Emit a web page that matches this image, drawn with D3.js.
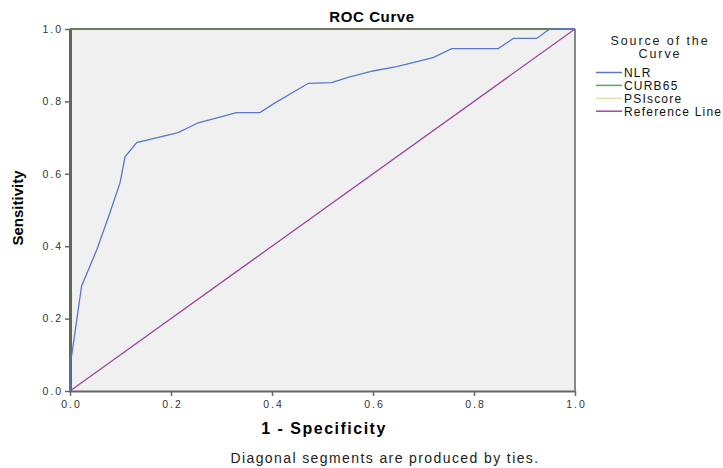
<!DOCTYPE html>
<html>
<head>
<meta charset="utf-8">
<script src="https://cdn.jsdelivr.net/npm/d3@7"></script>
<style>
body { margin: 0; background: #fff; }
text { font-family: "Liberation Sans", Arial, sans-serif; }
</style>
</head>
<body>
<div id="roc_div"></div>
<script>
// NLR curve (1 - specificity, sensitivity)
var nlrX = [0, 0, 0.003, 0.023, 0.053, 0.076, 0.099, 0.109, 0.132, 0.214, 0.254, 0.330, 0.376, 0.406, 0.472, 0.518, 0.554, 0.600, 0.647, 0.719, 0.756, 0.848, 0.878, 0.924, 0.950, 1];
var nlrY = [0, 0.09, 0.095, 0.290, 0.390, 0.480, 0.575, 0.647, 0.686, 0.714, 0.741, 0.769, 0.769, 0.796, 0.850, 0.852, 0.868, 0.884, 0.896, 0.921, 0.946, 0.946, 0.974, 0.974, 1.0, 1.0];
var refX = [0, 1];
var refY = [0, 1];

var ticks = [0, 0.2, 0.4, 0.6, 0.8, 1.0];
var legendTitle = ['Source of the', 'Curve'];
var legendNames = ['NLR', 'CURB65', 'PSIscore', 'Reference Line'];
var legendColors = ['#5b77c9', '#3fb55c', '#e4e1a8', '#9c4a9c'];

var w = 723, h = 468;
var margin = {top: 29, right: 148, bottom: 77, left: 70};

var svg = d3.select('#roc_div')
    .append('svg')
    .attr('width', w)
    .attr('height', h);

var x = d3.scaleLinear().domain([0, 1]).range([margin.left, w - margin.right]);
var y = d3.scaleLinear().domain([0, 1]).range([h - margin.bottom, margin.top]);

// plot background
svg.append('rect')
    .attr('x', x(0)).attr('y', y(1))
    .attr('width', x(1) - x(0)).attr('height', y(0) - y(1))
    .attr('fill', '#f0f0f0');

// axes
var xAxis = svg.append('g')
    .attr('transform', 'translate(0,' + y(0) + ')')
    .call(d3.axisBottom(x).tickValues(ticks).tickFormat(d3.format('.1f')).tickSize(5).tickSizeOuter(0));
var yAxis = svg.append('g')
    .attr('transform', 'translate(' + x(0) + ',0)')
    .call(d3.axisLeft(y).tickValues(ticks).tickFormat(d3.format('.1f')).tickSize(5).tickSizeOuter(0));

xAxis.selectAll('text').attr('fill', '#333').style('font-size', '10.5px')
    .style('letter-spacing', '2px').attr('dx', '1px').attr('y', 8).attr('dy', '0.85em');
yAxis.selectAll('text').attr('fill', '#333').style('font-size', '10.5px')
    .style('letter-spacing', '2px').attr('x', -7);
xAxis.selectAll('line').attr('stroke', '#666').attr('stroke-width', 1.5);
yAxis.selectAll('line').attr('stroke', '#666').attr('stroke-width', 1.5);
xAxis.select('.domain').attr('stroke', '#666').attr('stroke-width', 2);
yAxis.select('.domain').attr('stroke', '#5c6b4c').attr('stroke-width', 3);

// frame top and right
svg.append('line')
    .attr('x1', x(0)).attr('y1', y(1)).attr('x2', x(1)).attr('y2', y(1))
    .attr('stroke', '#6a7a5a').attr('stroke-width', 2);
svg.append('line')
    .attr('x1', x(1)).attr('y1', y(1)).attr('x2', x(1)).attr('y2', y(0))
    .attr('stroke', '#888').attr('stroke-width', 2);

var line = d3.line()
    .x(function(d) { return x(d[0]); })
    .y(function(d) { return y(d[1]); });

svg.append('path')
    .datum(d3.zip(refX, refY))
    .attr('d', line)
    .attr('fill', 'none')
    .attr('stroke', legendColors[3])
    .attr('stroke-width', 1.3);

svg.append('path')
    .datum(d3.zip(nlrX, nlrY))
    .attr('d', line)
    .attr('fill', 'none')
    .attr('stroke', legendColors[0])
    .attr('stroke-width', 1.3);

// titles
svg.append('text')
    .attr('x', 372).attr('y', 22)
    .attr('text-anchor', 'middle')
    .style('font-size', '15px').style('font-weight', 'bold')
    .style('letter-spacing', '0.6px')
    .text('ROC Curve');

svg.append('text')
    .attr('x', 324).attr('y', 434)
    .attr('text-anchor', 'middle')
    .style('font-size', '16px').style('font-weight', 'bold')
    .style('letter-spacing', '1.5px')
    .text('1 - Specificity');

svg.append('text')
    .attr('transform', 'translate(23,208) rotate(-90)')
    .attr('text-anchor', 'middle')
    .style('font-size', '15px').style('font-weight', 'bold')
    .text('Sensitivity');

svg.append('text')
    .attr('x', 385).attr('y', 463)
    .attr('text-anchor', 'middle')
    .style('font-size', '14px').attr('fill', '#222')
    .style('letter-spacing', '1.4px')
    .text('Diagonal segments are produced by ties.');

// legend
for (var k = 0; k < legendTitle.length; k++) {
    svg.append('text')
        .attr('x', 660).attr('y', 45 + k * 13)
        .attr('text-anchor', 'middle')
        .style('font-size', '12.5px').attr('fill', '#222')
        .style('letter-spacing', '1.9px')
        .text(legendTitle[k]);
}

for (var i = 0; i < legendNames.length; i++) {
    var ly = 72.5 + i * 12.9;
    svg.append('line')
        .attr('x1', 596).attr('y1', ly).attr('x2', 622).attr('y2', ly)
        .attr('stroke', legendColors[i]).attr('stroke-width', 1.5);
    svg.append('text')
        .attr('x', 624).attr('y', ly + 4.3)
        .style('font-size', '12px').attr('fill', '#111')
        .style('letter-spacing', '1.2px')
        .text(legendNames[i]);
}
</script>
</body>
</html>
